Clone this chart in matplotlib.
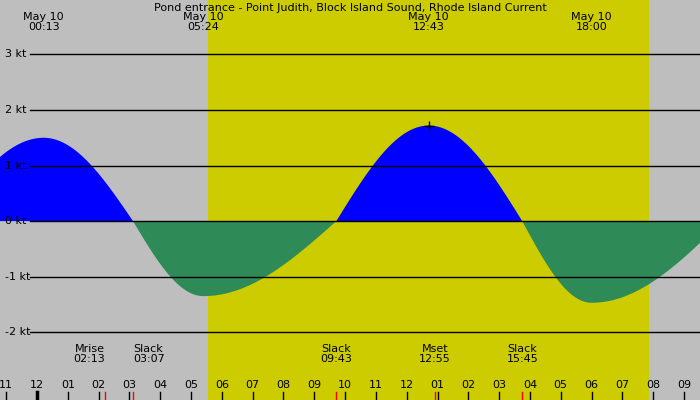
import numpy as np
import matplotlib
matplotlib.use("Agg")
import matplotlib.pyplot as plt

# events: hour (from midnight May 10), speed kt
ev_hours = [-3.0, 0.217, 3.117, 5.4, 9.717, 12.717, 15.75, 18.0, 22.25]
ev_vals = [0.0, 1.5, 0.0, -1.35, 0.0, 1.72, 0.0, -1.47, 0.0]
sun_rise, sun_set = 5.55, 19.87
top_labels = [("May 10\n00:13", 0.217), ("May 10\n05:24", 5.4), ("May 10\n12:43", 12.717), ("May 10\n18:00", 18.0)]
bottom_events = [("Mrise\n02:13", 2.217, 'left'), ("Slack\n03:07", 3.117, 'right'),
                 ("Slack\n09:43", 9.717, 'center'), ("Mset\n12:55", 12.917, 'center'),
                 ("Slack\n15:45", 15.75, 'center')]
red_marks = [2.217, 3.117, 9.717, 12.917, 15.75]
hour_labels = ["11","12","01","02","03","04","05","06","07","08","09","10","11","12","01","02","03","04","05","06","07","08","09"]
yticks = [-2, -1, 0, 1, 2, 3]

x0, x1 = -1.2, 21.52
y0, y1 = -3.22, 3.98

def speed(t):
    out = np.zeros_like(t)
    for i in range(len(ev_hours)-1):
        a, b = ev_hours[i], ev_hours[i+1]
        va, vb = ev_vals[i], ev_vals[i+1]
        m = (t >= a) & (t <= b)
        f = (t[m]-a)/(b-a)
        if va == 0:
            out[m] = vb*np.sin(f*np.pi/2)
        else:
            out[m] = va*np.cos(f*np.pi/2)
    return out

fig = plt.figure(figsize=(7, 4), dpi=100)
ax = fig.add_axes([0, 0, 1, 1])
ax.set_xlim(x0, x1); ax.set_ylim(y0, y1)
ax.axis('off')
fig.patch.set_facecolor('#bebebe')
ax.axvspan(sun_rise, sun_set, color='#cccc00', lw=0)

t = np.linspace(x0, x1, 2000)
v = speed(t)
ax.fill_between(t, v, 0, where=v >= 0, color='#0000ff', lw=0)
ax.fill_between(t, v, 0, where=v <= 0, color='#2e8b57', lw=0)

for y in yticks:
    ax.plot([x0+30/30.8, x1], [y, y], color='black', lw=1)
    ax.text(x0+5/30.8, y, f"{y} kt", fontsize=8, va='center', ha='left')

ax.plot([12.717], [1.72], marker='+', color='black', ms=7)

ax.text((x0+x1)/2, y1-0.05, "Pond entrance - Point Judith, Block Island Sound, Rhode Island Current",
        ha='center', va='top', fontsize=8)
for s, h in top_labels:
    ax.text(h, y1-0.22, s, ha='center', va='top', fontsize=8, linespacing=1.0)

px = 1/55.5
for s, h, al in bottom_events:
    ax.text(h, y0 + 46*px, s, ha='center' if al == 'center' else ('right' if al=='left' else 'left'),
            va='center', fontsize=8, linespacing=1.0)

for i, s in enumerate(hour_labels):
    h = i - 1
    ax.text(h, y0 + 15*px, s, ha='center', va='center', fontsize=8)
    lw = 2.5 if s == "12" and h == 0 else 1
    ax.plot([h, h], [y0, y0 + 8*px], color='black', lw=lw)
for h in red_marks:
    ax.plot([h, h], [y0, y0 + 8*px], color='red', lw=1)

fig.savefig("out.png", dpi=100, facecolor=fig.get_facecolor())
